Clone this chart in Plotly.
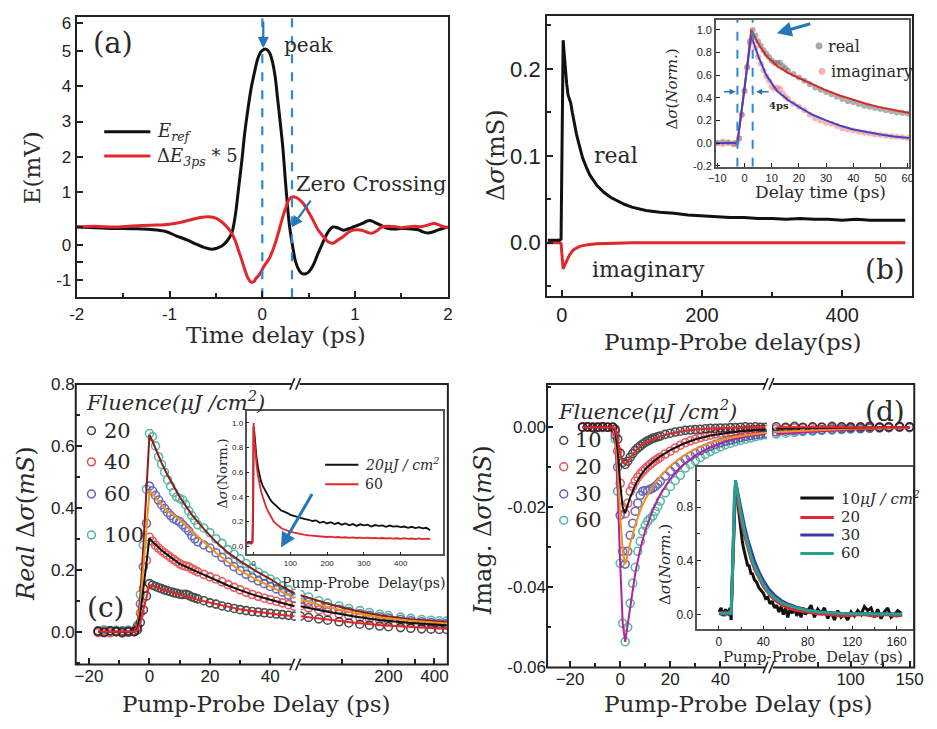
import plotly.graph_objects as go

W, H = 937, 729
SERIF = "DejaVu Serif"
SANS = "Liberation Sans"
INK = "#222222"

# ---------------- (a) THz waveforms ----------------
t_ref = [-2.0, -1.8, -1.6, -1.4, -1.2, -1.05, -0.93, -0.8, -0.72, -0.63, -0.54, -0.44, -0.38, -0.33, -0.29,
         -0.26, -0.22, -0.19, -0.155, -0.12, -0.08, -0.05, -0.01, 0.04, 0.08, 0.11, 0.14, 0.16, 0.19, 0.22,
         0.245, 0.27, 0.29, 0.31, 0.34, 0.36, 0.40, 0.43, 0.47, 0.50, 0.55, 0.59, 0.64, 0.68, 0.72, 0.76,
         0.81, 0.87, 0.93, 0.98, 1.03, 1.08, 1.13, 1.17, 1.22, 1.29, 1.35, 1.40, 1.47, 1.54, 1.61, 1.68,
         1.73, 1.78, 1.84, 1.89, 1.95, 2.0]
e_ref = [0.0, -0.02, -0.04, -0.05, -0.07, -0.12, -0.25, -0.38, -0.48, -0.58, -0.63, -0.55, -0.4, -0.18, 0.35,
         1.0, 1.9, 2.66, 3.35, 3.95, 4.45, 4.78, 5.0, 5.06, 4.95, 4.69, 4.25, 3.77, 3.05, 2.3,
         1.45, 0.64, 0.1, -0.28, -0.75, -1.0, -1.25, -1.33, -1.33, -1.28, -1.08, -0.82, -0.52, -0.28, -0.1, 0.0,
         -0.02, -0.09, -0.05, 0.0, 0.05, 0.1, 0.17, 0.18, 0.12, 0.03, -0.04, -0.06, -0.05, -0.04, -0.06, -0.08,
         -0.14, -0.17, -0.14, -0.09, -0.04, 0.0]
t_de = [-2.0, -1.8, -1.6, -1.4, -1.2, -1.0, -0.85, -0.75, -0.65, -0.58, -0.5, -0.44, -0.38, -0.33, -0.29,
        -0.26, -0.22, -0.19, -0.155, -0.12, -0.09, -0.07, -0.03, 0.0, 0.03, 0.07, 0.1, 0.14, 0.18, 0.22,
        0.26, 0.29, 0.33, 0.36, 0.4, 0.45, 0.5, 0.55, 0.6, 0.66, 0.71, 0.76, 0.81, 0.87, 0.93, 0.98,
        1.03, 1.08, 1.13, 1.18, 1.24, 1.29, 1.36, 1.43, 1.5, 1.57, 1.64, 1.71, 1.78, 1.85, 1.92, 2.0]
de_x5 = [0.0, 0.02, 0.0, 0.03, 0.05, 0.08, 0.15, 0.22, 0.28, 0.29, 0.25, 0.15, 0.0, -0.18, -0.4,
         -0.64, -0.95, -1.2, -1.45, -1.57, -1.55, -1.47, -1.35, -1.2, -1.07, -0.92, -0.75, -0.46, -0.1, 0.28,
         0.6, 0.79, 0.86, 0.84, 0.78, 0.64, 0.42, 0.18, -0.08, -0.28, -0.42, -0.46, -0.38, -0.28, -0.15, -0.09,
         -0.08, -0.1, -0.15, -0.18, -0.1, 0.0, 0.02, 0.01, -0.02, 0.0, 0.02, 0.01, 0.05, 0.1, 0.04, -0.02]
a_marks = [0.0, 0.32]          # peak and zero-crossing delays
a_yticks = [5.79, 5, 4, 3, 2, 1, -0.52, -1.52]
a_ytext = ["6", "5", "4", "3", "2", "1", "0", "-1"]
a_yminor = [0, -1]

# ---------------- (b) conductivity vs delay ----------------
t_b = [-20, -10, -3, -1, 0, 1, 2, 3, 5, 7, 9, 11, 13, 15, 18, 21, 25, 30, 35, 40, 50, 60, 70, 80, 90, 100,
       120, 140, 160, 180, 200, 220, 240, 260, 280, 300, 320, 340, 360, 380, 400, 420, 440, 460, 480, 490]
re_b = [0.003, 0.003, 0.003, 0.004, 0.1, 0.22, 0.233, 0.222, 0.2, 0.183, 0.17, 0.165, 0.16, 0.15, 0.137, 0.125,
        0.112, 0.097, 0.087, 0.078, 0.066, 0.058, 0.052, 0.048, 0.044, 0.041,
        0.037, 0.035, 0.034, 0.032, 0.031, 0.030, 0.029, 0.029, 0.028, 0.028, 0.027, 0.028, 0.027, 0.027,
        0.026, 0.027, 0.026, 0.026, 0.026, 0.026]
im_b = [0, 0, 0, -0.001, -0.01, -0.024, -0.03, -0.028, -0.024, -0.02, -0.017, -0.014, -0.012, -0.0095, -0.0075,
        -0.006, -0.0045, -0.0033, -0.0025, -0.0019, -0.0012, -0.0008, -0.0005, -0.0003, -0.0002, -0.0001,
        0, 0, 0, 0, 0, 0, 0, 0, 0, 0, 0, 0, 0, 0, 0, 0, 0, 0, 0, 0]

# inset (b): normalised traces
t_ib = [-10, -8, -6, -4, -3, -2, -1, 0, 1, 2, 3, 4, 5, 6, 7, 8, 9, 10, 11, 12, 13, 14, 15, 16,
        18, 20, 22, 24, 26, 28, 30, 32, 34, 36, 38, 40, 42, 44, 46, 48, 50, 52, 54, 56, 58, 60]
re_ib = [0, 0.01, 0, -0.01, 0, 0.04, 0.25, 0.46, 0.67, 0.9, 1.0, 0.95, 0.9, 0.86, 0.82, 0.79, 0.76, 0.73, 0.71,
         0.71, 0.71, 0.68, 0.66, 0.64, 0.61, 0.58, 0.55, 0.52, 0.49, 0.47, 0.45, 0.43, 0.41, 0.39, 0.37, 0.36,
         0.345, 0.33, 0.32, 0.31, 0.3, 0.29, 0.28, 0.27, 0.265, 0.26]
im_ib = [0, -0.01, 0.01, 0, 0, 0.04, 0.25, 0.46, 0.67, 0.88, 0.93, 0.84, 0.76, 0.7, 0.64, 0.59, 0.55, 0.5, 0.48,
         0.49, 0.48, 0.44, 0.41, 0.39, 0.35, 0.32, 0.29, 0.25, 0.22, 0.2, 0.18, 0.17, 0.15, 0.13, 0.12, 0.11,
         0.1, 0.09, 0.085, 0.075, 0.07, 0.065, 0.06, 0.055, 0.05, 0.045]
tf_ib = [-10.5, -2.6, 0, 2.5, 5, 8, 12, 16, 20, 25, 30, 35, 40, 45, 50, 55, 60.5]
ref_ib = [0, 0, 0.48, 1.0, 0.88, 0.77, 0.68, 0.62, 0.575, 0.52, 0.465, 0.42, 0.38, 0.345, 0.315, 0.29, 0.265]
imf_ib = [0, 0, 0.48, 0.95, 0.77, 0.6, 0.46, 0.38, 0.32, 0.25, 0.2, 0.155, 0.12, 0.095, 0.075, 0.058, 0.045]
b_marks = [-2.6, 3.0]

# ---------------- (c) real part, fluence series ----------------
t_c = [-17, -15, -13, -11, -9, -7, -5, -4, -3, -2, -1, 0, 1, 2, 3, 4, 5, 6, 7, 8, 9, 10, 11, 12, 13, 14, 15, 16,
       18, 20, 22, 24, 26, 28, 30, 32, 34, 36, 38, 40, 42, 44, 46, 48]
c20 = [0.002, -0.002, 0.003, 0.0, -0.002, 0.001, 0.0, 0.006, 0.03, 0.07, 0.115, 0.155, 0.15, 0.146, 0.142, 0.139,
       0.135, 0.132, 0.129, 0.126, 0.124, 0.121, 0.12, 0.121, 0.117, 0.112, 0.109, 0.106,
       0.1, 0.093, 0.089, 0.083, 0.079, 0.075, 0.071, 0.068, 0.065, 0.063, 0.061, 0.059, 0.057, 0.055, 0.053, 0.05]
c40 = [-0.003, 0.002, -0.004, 0.001, -0.005, 0.0, 0.002, 0.012, 0.06, 0.14, 0.23, 0.305, 0.292, 0.279, 0.27, 0.262,
       0.254, 0.247, 0.24, 0.233, 0.226, 0.219, 0.214, 0.212, 0.209, 0.203, 0.198, 0.193,
       0.185, 0.177, 0.17, 0.161, 0.152, 0.143, 0.135, 0.127, 0.12, 0.114, 0.108, 0.103, 0.098, 0.093, 0.087, 0.082]
c60 = [0.0, -0.003, 0.002, 0.0, 0.003, -0.002, 0.0, 0.015, 0.09, 0.21, 0.35, 0.47, 0.455, 0.44, 0.425, 0.41,
       0.398, 0.385, 0.375, 0.365, 0.36, 0.355, 0.345, 0.335, 0.325, 0.31, 0.3, 0.29,
       0.28, 0.27, 0.255, 0.24, 0.225, 0.21, 0.197, 0.185, 0.174, 0.164, 0.155, 0.146, 0.138, 0.128, 0.118, 0.108]
c100 = [0.003, 0.006, 0.002, 0.004, 0.0, 0.005, 0.002, 0.02, 0.12, 0.28, 0.46, 0.64, 0.63, 0.6, 0.565, 0.54,
        0.515, 0.49, 0.47, 0.45, 0.435, 0.43, 0.425, 0.41, 0.39, 0.375, 0.36, 0.345,
        0.335, 0.32, 0.3, 0.285, 0.265, 0.25, 0.235, 0.22, 0.205, 0.192, 0.18, 0.17, 0.16, 0.148, 0.135, 0.124]
tf_c = [-17, -5, -4, -3, -2, -1, 0, 1, 2, 4, 6, 8, 10, 14, 18, 22, 26, 30, 35, 40, 44, 48]
f20 = [0, 0, 0.005, 0.03, 0.07, 0.112, 0.15, 0.148, 0.144, 0.137, 0.131, 0.125, 0.119, 0.108, 0.098, 0.089,
       0.08, 0.072, 0.065, 0.058, 0.054, 0.05]
f40 = [0, 0, 0.01, 0.06, 0.14, 0.225, 0.302, 0.29, 0.28, 0.263, 0.248, 0.233, 0.219, 0.201, 0.184, 0.165,
       0.149, 0.134, 0.117, 0.103, 0.092, 0.082]
f60 = [0, 0, 0.015, 0.09, 0.21, 0.34, 0.455, 0.445, 0.432, 0.41, 0.39, 0.375, 0.362, 0.325, 0.29, 0.255,
       0.225, 0.198, 0.17, 0.147, 0.126, 0.108]
f100 = [0, 0, 0.02, 0.12, 0.28, 0.46, 0.635, 0.615, 0.59, 0.545, 0.505, 0.468, 0.435, 0.378, 0.332, 0.29,
        0.255, 0.228, 0.197, 0.17, 0.145, 0.124]
# long-delay part (log axis after the break)
tr_c = [53, 60, 70, 80, 95, 110, 130, 150, 175, 200, 240, 280, 330, 380, 430, 480]
r20 = [0.05, 0.046, 0.041, 0.037, 0.032, 0.028, 0.024, 0.021, 0.018, 0.016, 0.013, 0.011, 0.009, 0.008, 0.007, 0.007]
r40 = [0.083, 0.077, 0.07, 0.064, 0.057, 0.052, 0.046, 0.042, 0.038, 0.035, 0.031, 0.028, 0.026, 0.024, 0.022, 0.021]
r60 = [0.103, 0.095, 0.087, 0.08, 0.072, 0.065, 0.058, 0.053, 0.048, 0.044, 0.039, 0.035, 0.032, 0.029, 0.027, 0.026]
r100 = [0.12, 0.112, 0.1, 0.092, 0.083, 0.075, 0.068, 0.062, 0.056, 0.052, 0.047, 0.043, 0.039, 0.037, 0.035, 0.034]
trf_c = [53, 80, 120, 180, 270, 400, 480]
rf20 = [0.05, 0.039, 0.029, 0.021, 0.015, 0.011, 0.01]
rf40 = [0.082, 0.064, 0.049, 0.037, 0.029, 0.023, 0.021]
rf60 = [0.103, 0.08, 0.06, 0.046, 0.036, 0.029, 0.026]
rf100 = [0.118, 0.09, 0.068, 0.052, 0.041, 0.033, 0.03]

# inset (c): normalised real part, 20 and 60 uJ/cm2
t_ic = [-19, -12, -6, -3, -1, 0, 2, 5, 8, 12, 16, 20, 25, 30, 35, 40, 45, 50, 55, 60, 65, 70, 75, 80, 85, 90,
        95, 100, 110, 120, 130, 140, 150, 160, 170, 180, 190, 200, 210, 220, 230, 240, 250, 260, 270, 280,
        290, 300, 310, 320, 330, 340, 350, 360, 370, 380, 390, 400, 410, 420, 430, 440, 450, 460, 470, 480]
k20_ic = [0.03, 0.035, 0.03, 0.04, 0.3, 0.97, 0.93, 0.8, 0.72, 0.64, 0.57, 0.53, 0.49, 0.46, 0.43, 0.4, 0.38,
          0.36, 0.345, 0.33, 0.32, 0.3, 0.29, 0.285, 0.28, 0.27, 0.265, 0.255,
          0.245, 0.24, 0.225, 0.22, 0.215, 0.205, 0.21, 0.19, 0.2, 0.185, 0.195, 0.18, 0.19, 0.175, 0.185,
          0.17, 0.18, 0.165, 0.178, 0.17, 0.175, 0.16, 0.172, 0.165, 0.17, 0.158, 0.168, 0.16, 0.163, 0.155,
          0.16, 0.15, 0.158, 0.148, 0.155, 0.145, 0.15, 0.13]
r60_ic = [0.02, 0.025, 0.02, 0.03, 0.5, 1.0, 0.88, 0.76, 0.66, 0.57, 0.5, 0.45, 0.4, 0.35, 0.31, 0.28, 0.25,
          0.225, 0.2, 0.185, 0.17, 0.158, 0.148, 0.14, 0.133, 0.127, 0.122, 0.118,
          0.11, 0.102, 0.097, 0.092, 0.088, 0.085, 0.082, 0.08, 0.08, 0.075, 0.078, 0.072, 0.075, 0.07,
          0.073, 0.068, 0.072, 0.067, 0.07, 0.066, 0.07, 0.065, 0.068, 0.064, 0.067, 0.063, 0.066, 0.062,
          0.065, 0.06, 0.066, 0.06, 0.063, 0.058, 0.064, 0.058, 0.062, 0.06]

# ---------------- (d) imaginary part, fluence series ----------------
t_d = [-15, -13, -11, -9, -7, -5, -3, -2, -1, 0, 1, 2, 3, 4, 5, 6, 7, 8, 9, 10, 11, 12, 13, 14, 15, 16,
       18, 20, 22, 24, 26, 28, 30, 32, 34, 36, 38, 40, 42, 44, 46, 48, 50, 52, 54, 56, 58]
d10 = [0, 0.0001, -0.0001, 0, 0.0001, 0, 0, -0.0005, -0.003, -0.0065, -0.0088, -0.0093, -0.0085, -0.0075,
       -0.0066, -0.0058, -0.0052, -0.0047, -0.0042, -0.0038, -0.0034, -0.0031, -0.0028, -0.0026, -0.0024,
       -0.0022, -0.0018, -0.0015, -0.0012, -0.001, -0.0008, -0.0007, -0.0006, -0.0005, -0.0004, -0.0003,
       -0.0003, -0.0002, -0.0002, -0.0001, -0.0001, 0, 0.0001, 0, 0.0001, 0, 0]
d20 = [0.0001, 0, -0.0001, 0.0001, 0, 0, 0, -0.001, -0.006, -0.014, -0.02, -0.0216, -0.019, -0.016, -0.0148,
       -0.0135, -0.0125, -0.0117, -0.011, -0.0104, -0.0098, -0.0093, -0.0088, -0.0083, -0.0079, -0.0075,
       -0.0067, -0.006, -0.0052, -0.0045, -0.0039, -0.0034, -0.003, -0.0026, -0.0023, -0.002, -0.0017,
       -0.0015, -0.0013, -0.0012, -0.001, -0.0009, -0.0008, -0.0007, -0.0006, -0.0005, -0.0005]
d30 = [0, 0.0001, 0, -0.0001, 0.0001, 0, 0, -0.002, -0.01, -0.022, -0.031, -0.0342, -0.031, -0.027, -0.024,
       -0.021, -0.019, -0.017, -0.016, -0.0158, -0.0158, -0.0155, -0.0152, -0.0148, -0.0142, -0.0135,
       -0.0122, -0.011, -0.0099, -0.0089, -0.008, -0.0072, -0.0065, -0.0058, -0.0053, -0.0048, -0.0043,
       -0.0039, -0.0035, -0.0032, -0.0029, -0.0026, -0.0023, -0.0021, -0.0019, -0.0017, -0.0015]
d60 = [0.0001, 0, 0.0001, 0, -0.0001, 0, 0, -0.003, -0.016, -0.034, -0.049, -0.0536, -0.05, -0.044, -0.039,
       -0.035, -0.031, -0.0285, -0.026, -0.0245, -0.0235, -0.0228, -0.0222, -0.021, -0.0198, -0.0185,
       -0.0164, -0.0148, -0.0133, -0.012, -0.0102, -0.0093, -0.0084, -0.0076, -0.0068, -0.0061, -0.0055,
       -0.0049, -0.0044, -0.004, -0.0036, -0.0033, -0.003, -0.0027, -0.0024, -0.0021, -0.0019]
tf_d = [-15, -3, -2, -1, 0, 1, 2, 3, 4, 6, 8, 10, 13, 16, 20, 25, 30, 36, 42, 50, 58]
fd10 = [0, 0, -0.0005, -0.003, -0.0065, -0.0088, -0.0093, -0.0086, -0.0076, -0.006, -0.0048, -0.0039, -0.003,
        -0.0023, -0.0016, -0.001, -0.0006, -0.0003, -0.0002, -0.0001, 0]
fd20 = [0, 0, -0.001, -0.006, -0.014, -0.02, -0.0215, -0.0195, -0.0175, -0.0145, -0.0122, -0.0105, -0.0087,
        -0.0073, -0.0057, -0.0042, -0.003, -0.0021, -0.0015, -0.0009, -0.0005]
fd30 = [0, 0, -0.002, -0.01, -0.022, -0.031, -0.0342, -0.032, -0.029, -0.0245, -0.0208, -0.018, -0.0148,
        -0.0123, -0.0097, -0.0072, -0.0054, -0.0039, -0.0029, -0.002, -0.0014]
fd60 = [0, 0, -0.003, -0.016, -0.034, -0.049, -0.0536, -0.0495, -0.0445, -0.0365, -0.0305, -0.0258, -0.0207,
        -0.0168, -0.0129, -0.0095, -0.007, -0.005, -0.0036, -0.0024, -0.0017]
tr_d = [60, 64, 68, 72, 77, 82, 88, 94, 100, 107, 114, 122, 130, 140, 150]
rd10 = [0.0001, 0, 0.0002, 0, 0.0001, 0, 0.0002, 0.0001, 0, 0.0001, 0.0002, 0, 0.0001, 0.0002, 0.0001]
rd20 = [-0.0004, -0.0003, -0.0002, -0.0002, -0.0001, 0, -0.0001, 0, 0.0001, 0, 0, 0.0001, 0, 0.0001, 0]
rd30 = [-0.0012, -0.001, -0.0009, -0.0008, -0.0007, -0.0006, -0.0005, -0.0004, -0.0003, -0.0003, -0.0002,
        -0.0001, -0.0001, 0, -0.0001]
rd60 = [-0.0017, -0.0015, -0.0013, -0.0011, -0.001, -0.0008, -0.0007, -0.0006, -0.0005, -0.0004, -0.0003,
        -0.0002, -0.0001, 0.0, 0.0001]
trf_d = [60, 80, 100, 125, 150]
rfd10 = [0, 0, 0, 0, 0]
rfd20 = [-0.0004, -0.0002, -0.0001, 0, 0]
rfd30 = [-0.0012, -0.0007, -0.0004, -0.0002, -0.0001]
rfd60 = [-0.0017, -0.001, -0.0006, -0.0003, -0.0002]

# inset (d): normalised imaginary part
t_id = [0, 3, 6, 9, 11, 12, 13, 14, 15, 16, 18, 20, 23, 26, 29, 32, 36, 40, 45, 50, 56, 62, 70, 80, 90, 100,
        110, 120, 130, 140, 150, 160, 165]
n20_id = [0.01, 0.015, 0.0, 0.02, 0.01, 0.25, 0.6, 0.86, 0.97, 0.9, 0.8, 0.7, 0.59, 0.49, 0.41, 0.34, 0.27,
          0.21, 0.155, 0.11, 0.075, 0.05, 0.03, 0.015, 0.005, 0.0, -0.01, -0.005, 0.0, -0.012, 0.0, -0.01, -0.005]
n30_id = [0.01, 0.0, 0.02, 0.0, 0.01, 0.25, 0.6, 0.86, 0.98, 0.95, 0.86, 0.77, 0.66, 0.56, 0.47, 0.4, 0.32,
          0.255, 0.19, 0.145, 0.105, 0.08, 0.055, 0.035, 0.022, 0.015, 0.01, 0.008, 0.006, 0.005, 0.004,
          0.004, 0.004]
n60_id = [0.01, 0.01, 0.01, 0.01, 0.01, 0.25, 0.6, 0.88, 1.0, 0.94, 0.84, 0.74, 0.62, 0.52, 0.43, 0.36, 0.29,
          0.225, 0.165, 0.125, 0.09, 0.07, 0.05, 0.03, 0.02, 0.012, 0.008, 0.006, 0.005, 0.004, 0.004,
          0.003, 0.003]
t_id10 = [0, 2, 4, 6, 8, 10, 11, 12, 13, 14, 15, 16, 17, 18, 19, 20, 21, 22, 23, 24, 25, 26, 27, 28, 29, 30,
          32, 34, 36, 38, 40, 42, 44, 46, 48, 50, 52, 54, 56, 58, 60, 62, 64, 66, 68, 70, 72, 74, 76, 78, 80,
          83, 86, 89, 92, 95, 98, 101, 104, 107, 110, 113, 116, 119, 122, 125, 128, 131, 134, 137, 140, 143,
          146, 149, 152, 155, 158, 161, 164]
n10_id = [0.02, 0.05, -0.01, 0.04, 0.0, 0.05, -0.04, 0.3, 0.6, 0.85, 0.97, 0.9, 0.8, 0.74, 0.66, 0.62, 0.55,
          0.5, 0.46, 0.44, 0.4, 0.36, 0.37, 0.32, 0.3, 0.31, 0.26, 0.24, 0.2, 0.18, 0.16, 0.12, 0.13, 0.08,
          0.1, 0.05, 0.07, 0.02, 0.06, 0.0, 0.05, -0.02, 0.04, 0.01, 0.06, -0.01, 0.03, -0.02, 0.05, 0.0, 0.03,
          0.07, -0.02, 0.04, 0.01, 0.05, -0.03, 0.02, -0.04, 0.03, -0.02, 0.0, -0.04, 0.02, -0.01, 0.03, 0.0,
          0.06, 0.03, 0.05, -0.02, 0.04, -0.03, 0.02, 0.05, -0.02, 0.0, 0.03, 0.01]

# ---------------- colours ----------------
BLACK = "#111111"
RED = "#e3262b"
BLUE = "#3a3aa8"
TEAL = "#25a28a"
ORANGE = "#f0921e"
DKRED = "#8c1c1c"
MAGENTA = "#b3239c"
ARROW = "#2677b8"
DASH = "#2b8ad2"


def xdom(a, b):
    return [a / W, b / W]


def ydom(top, bottom):
    return [1 - bottom / H, 1 - top / H]


def px(x):
    return x / W


def py(y):
    return 1 - y / H


def axis_style(size, line=True, lc=INK, lw=2):
    return dict(showgrid=False, zeroline=False, ticks="inside", ticklen=6, tickwidth=1.5, tickcolor=INK,
                showline=line, mirror=line, linecolor=lc, linewidth=lw,
                tickfont=dict(family=SANS, size=size, color=INK))


def minor_at(vals, ln=6):
    return dict(ticks="inside", ticklen=ln, tickmode="array", tickvals=vals, tickcolor=INK, tickwidth=1.5)


fig = go.Figure()


def line(x, y, xa, ya, color, width=2.5, shape="linear", dash=None):
    fig.add_trace(go.Scatter(x=x, y=y, mode="lines", xaxis=xa, yaxis=ya, showlegend=False, hoverinfo="skip",
                             line=dict(color=color, width=width, shape=shape, dash=dash)))


def rings(x, y, xa, ya, color, size=8):
    fig.add_trace(go.Scatter(x=x, y=y, mode="markers", xaxis=xa, yaxis=ya, showlegend=False, hoverinfo="skip",
                             opacity=0.75,
                             marker=dict(symbol="circle-open", size=size, color=color, line=dict(width=1.6))))


def dots(x, y, xa, ya, color, size=6):
    fig.add_trace(go.Scatter(x=x, y=y, mode="markers", xaxis=xa, yaxis=ya, showlegend=False, hoverinfo="skip",
                             marker=dict(symbol="circle", size=size, color=color)))


# (a)
line(t_ref, e_ref, "x", "y", BLACK, 3, "spline")
line(t_de, de_x5, "x", "y", RED, 3, "spline")

# (b)
line(t_b, im_b, "x2", "y2", RED, 3)
line(t_b, re_b, "x2", "y2", BLACK, 3)

# (c) left segment
for yv, col in [(c100, TEAL), (c60, BLUE), (c40, RED), (c20, BLACK)]:
    rings(t_c, yv, "x3", "y3", col)
for yv, col in [(f100, DKRED), (f60, ORANGE), (f40, BLACK), (f20, RED)]:
    line(tf_c, yv, "x3", "y3", col, 2)
# (c) right segment
for yv, col in [(r100, TEAL), (r60, BLUE), (r40, RED), (r20, BLACK)]:
    rings(tr_c, yv, "x4", "y3", col)
for yv, col in [(rf100, DKRED), (rf60, ORANGE), (rf40, BLACK), (rf20, RED)]:
    line(trf_c, yv, "x4", "y3", col, 2)

# (d) left segment
for yv, col in [(d60, TEAL), (d30, BLUE), (d20, RED), (d10, BLACK)]:
    rings(t_d, yv, "x5", "y5", col)
for yv, col in [(fd60, MAGENTA), (fd30, ORANGE), (fd20, BLACK), (fd10, RED)]:
    line(tf_d, yv, "x5", "y5", col, 2)
# (d) right segment
for yv, col in [(rd60, TEAL), (rd30, BLUE), (rd20, RED), (rd10, BLACK)]:
    rings(tr_d, yv, "x6", "y5", col)
for yv, col in [(rfd60, MAGENTA), (rfd30, ORANGE), (rfd20, BLACK), (rfd10, RED)]:
    line(trf_d, yv, "x6", "y5", col, 2)

# inset (b)
dots(t_ib, re_ib, "x7", "y7", "rgba(110,110,110,0.55)", 6)
dots(t_ib, im_ib, "x7", "y7", "rgba(240,110,110,0.5)", 6)
line(tf_ib, ref_ib, "x7", "y7", "#d42a2a", 2)
line(tf_ib, imf_ib, "x7", "y7", "#4444c4", 2)
for xm in b_marks:
    line([xm, xm], [-0.21, 1.09], "x7", "y7", DASH, 2, dash="dash")

# inset (c)
line(t_ic, k20_ic, "x8", "y8", BLACK, 1.8)
line(t_ic, r60_ic, "x8", "y8", RED, 1.8)

# inset (d)
line(t_id10, n10_id, "x9", "y9", BLACK, 3)
line(t_id, n20_id, "x9", "y9", RED, 3)
line(t_id, n30_id, "x9", "y9", BLUE, 3)
line(t_id, n60_id, "x9", "y9", TEAL, 3)

# vertical markers in (a)
for xm in a_marks:
    line([xm, xm], [-2.0, 5.98], "x", "y", DASH, 2.2, dash="dash")

layout = dict(width=W, height=H, margin=dict(l=0, r=0, t=0, b=0), paper_bgcolor="white", plot_bgcolor="white",
              showlegend=False)

# axes (a)
layout["xaxis"] = dict(axis_style(17), domain=xdom(70, 448), range=[-2, 2], anchor="y",
                       tickvals=[-2, -1, 0, 1, 2], ticktext=["-2", "-1", "0", "1", "2"],
                       minor=dict(ticks="inside", ticklen=4, dtick=0.5, tick0=0, tickcolor=INK))
layout["yaxis"] = dict(axis_style(17), domain=ydom(8, 296), range=[-2.0, 5.98], anchor="x",
                       tickvals=a_yticks, ticktext=a_ytext, minor=minor_at(a_yminor))
# axes (b)
layout["xaxis2"] = dict(axis_style(20), domain=xdom(549, 921), range=[-21, 500], anchor="y2",
                        tickvals=[0, 200, 400],
                        minor=dict(ticks="inside", ticklen=4, dtick=100, tick0=0, tickcolor=INK))
layout["yaxis2"] = dict(axis_style(22), domain=ydom(7, 295), range=[-0.0616, 0.261], anchor="x2",
                        tickvals=[0, 0.1, 0.2], ticktext=["0.0", "0.1", "0.2"],
                        minor=dict(ticks="inside", ticklen=4, dtick=0.05, tick0=0, tickcolor=INK))
# axes (c)
layout["xaxis3"] = dict(axis_style(17, line=False), domain=xdom(69, 293), range=[-24.4, 48.4], anchor="y3",
                        tickvals=[-20, 0, 20, 40],
                        minor=dict(ticks="inside", ticklen=4, dtick=10, tick0=0, tickcolor=INK))
layout["xaxis4"] = dict(axis_style(17, line=False), domain=xdom(298, 448), type="log", range=[1.726, 2.69],
                        anchor="y3", tickvals=[200, 400], ticktext=["200", "400"],
                        minor=minor_at([100, 300], 5))
layout["yaxis3"] = dict(axis_style(17, line=False), domain=ydom(385, 673), range=[-0.106, 0.8], anchor="x3",
                        tickvals=[0, 0.2, 0.4, 0.6, 0.8], ticktext=["0.0", "0.2", "0.4", "0.6", "0.8"],
                        minor=dict(ticks="inside", ticklen=4, dtick=0.1, tick0=0, tickcolor=INK))
# axes (d)
layout["xaxis5"] = dict(axis_style(17, line=False), domain=xdom(549, 773), range=[-29.2, 58.6], anchor="y5",
                        tickvals=[-20, 0, 20, 40],
                        minor=dict(ticks="inside", ticklen=4, dtick=10, tick0=0, tickcolor=INK))
layout["xaxis6"] = dict(axis_style(17, line=False), domain=xdom(778, 923), type="log", range=[1.765, 2.19],
                        anchor="y5", tickvals=[100, 150], ticktext=["100", "150"],
                        minor=minor_at([80, 125], 5))
layout["yaxis5"] = dict(axis_style(17, line=False), domain=ydom(385, 676), range=[-0.06, 0.0108], anchor="x5",
                        tickvals=[-0.06, -0.04, -0.02, 0], ticktext=["-0.06", "-0.04", "-0.02", "0.00"],
                        minor=dict(ticks="inside", ticklen=4, dtick=0.01, tick0=0, tickcolor=INK))
# inset axes
ins_b = axis_style(11, lc="#555555", lw=1.5)
ins_b.update(ticklen=4, tickwidth=1)
layout["xaxis7"] = dict(ins_b, domain=xdom(721, 918), range=[-10.5, 60.6], anchor="y7",
                        tickvals=[-10, 0, 10, 20, 30, 40, 50, 60])
layout["yaxis7"] = dict(ins_b, domain=ydom(11, 162), range=[-0.21, 1.09], anchor="x7",
                        tickvals=[-0.2, 0, 0.2, 0.4, 0.6, 0.8, 1.0],
                        ticktext=["-0.2", "0.0", "0.2", "0.4", "0.6", "0.8", "1.0"])
ins_c = axis_style(8, lc="#555555", lw=1.5)
ins_c.update(ticklen=3, tickwidth=1)
layout["xaxis8"] = dict(ins_c, domain=xdom(243, 443), range=[-19, 515], anchor="y8",
                        tickvals=[0, 100, 200, 300, 400])
layout["yaxis8"] = dict(ins_c, domain=ydom(413, 560), range=[-0.066, 1.095], anchor="x8",
                        tickvals=[0, 0.2, 0.4, 0.6, 0.8, 1.0],
                        ticktext=["0.0", "0.2", "0.4", "0.6", "0.8", "1.0"])
ins_d = axis_style(12, lc="#555555", lw=1.5)
ins_d.update(ticklen=4, tickwidth=1)
layout["xaxis9"] = dict(ins_d, domain=xdom(702, 922), range=[-19.5, 175], anchor="y9",
                        tickvals=[0, 40, 80, 120, 160],
                        minor=dict(ticks="inside", ticklen=3, dtick=20, tick0=0, tickcolor=INK))
layout["yaxis9"] = dict(ins_d, domain=ydom(470, 637), range=[-0.11, 1.1], anchor="x9",
                        tickvals=[0, 0.4, 0.8], ticktext=["0.0", "0.4", "0.8"],
                        minor=dict(ticks="inside", ticklen=3, dtick=0.2, tick0=0, tickcolor=INK))

fig.update_layout(**layout)

# ---------------- text ----------------
TXT = "#2a2a2a"


def text(s, x, y, size, angle=0, anchor="center", family=SERIF, color=TXT):
    fig.add_annotation(text=s, x=px(x), y=py(y), xref="paper", yref="paper", showarrow=False,
                       xanchor=anchor, yanchor="middle", textangle=angle,
                       font=dict(family=family, size=size, color=color))


def arrow(hx, hy, tx, ty, width=2.2, size=1.0):
    fig.add_annotation(text="", x=px(hx), y=py(hy), xref="paper", yref="paper", showarrow=True,
                       ax=tx - hx, ay=ty - hy, arrowhead=2, arrowsize=size, arrowwidth=width,
                       arrowcolor=ARROW)


# axis titles
text("E(mV)", 24, 163, 23, angle=-90)
text("Time delay (ps)", 273, 335, 23)
text("Δ<i>σ</i>(mS)", 497, 150, 24, angle=-90)
text("Pump-Probe delay(ps)", 738, 342, 23)
text("<i>Real</i> Δ<i>σ</i>(<i>mS</i>)", 19, 528, 24, angle=-90)
text("Pump-Probe Delay (ps)", 253, 714, 23)
text("<i>I</i>mag. Δ<i>σ</i>(<i>mS</i>)", 484, 535, 24, angle=-90)
text("Pump-Probe Delay (ps)", 743, 714, 23)

# (a)
text("(a)", 107, 35, 29)
text("peak", 307, 37, 20)
text("Zero Crossing", 370, 180, 21)
text("<i>E</i><sub><i>ref</i></sub>", 150, 126, 18, anchor="left")
text("Δ<i>E</i><sub><i>3ps</i></sub> * 5", 150, 152, 18, anchor="left")
arrow(260, 40, 260, 12)
arrow(289, 224, 309, 196)

# (b)
text("real", 619, 150, 22)
text("imaginary", 652, 267, 22)
text("(b)", 893, 267, 28)
text("Δ<i>σ</i>(<i>Norm.</i>)", 676, 82, 15, angle=-90)
text("Delay time (ps)", 828, 188, 17)
text("real", 833, 38, 16, anchor="left")
text("imaginary", 836, 64, 16, anchor="left")
text("<b>4ps</b>", 773, 99, 10, anchor="left")
arrow(783, 25, 818, 15, width=3)
arrow(741, 85, 728, 85, width=1.5, size=0.8)
arrow(762, 85, 776, 85, width=1.5, size=0.8)

# (c)
text("<i>Fluence(μJ /cm<sup>2</sup>)</i>", 171, 403, 21)
for yy, lab in [(433, "20"), (465, "40"), (498, "60"), (540, "100")]:
    text(lab, 96, yy, 21, anchor="left")
text("(c)", 100, 615, 28)
text("Δ<i>σ</i>(Norm.)", 219, 477, 13, angle=-90)
text("Pump-Probe  Delay(ps)", 362, 589, 14)
text("<i>20μJ / cm<sup>2</sup></i>", 362, 467, 14, anchor="left")
text("60", 362, 488, 14, anchor="left")
arrow(278, 553, 310, 498, width=3)

# (d)
text("<i>Fluence(μJ /cm<sup>2</sup>)</i>", 651, 412, 21)
for yy, lab in [(443, "10"), (470, "20"), (498, "30"), (525, "60")]:
    text(lab, 575, yy, 21, anchor="left")
text("(d)", 893, 413, 28)
text("Δ<i>σ</i>(<i>Norm.</i>)", 669, 570, 15, angle=-90)
text("Pump-Probe  Delay (ps)", 820, 665, 15)
for yy, lab in [(502, "10<i>μJ / cm<sup>2</sup></i>"), (522, "20"), (540, "30"), (559, "60")]:
    text(lab, 846, yy, 15, anchor="left")

# ---------------- shapes: frames, breaks, legend keys ----------------
shapes = []


def seg(x0, y0, x1, y1, color, width):
    shapes.append(dict(type="line", xref="paper", yref="paper", x0=px(x0), y0=py(y0), x1=px(x1), y1=py(y1),
                       line=dict(color=color, width=width)))


def ring(cx, cy, r, color):
    shapes.append(dict(type="circle", xref="paper", yref="paper", x0=px(cx - r), x1=px(cx + r),
                       y0=py(cy + r), y1=py(cy - r), line=dict(color=color, width=1.5), opacity=0.8))


def dot(cx, cy, r, color):
    shapes.append(dict(type="circle", xref="paper", yref="paper", x0=px(cx - r), x1=px(cx + r),
                       y0=py(cy + r), y1=py(cy - r), line=dict(width=0), fillcolor=color))


# outer frames of the broken-axis panels
for (l, t, r, b) in [(69, 385, 448, 673), (549, 385, 923, 676)]:
    shapes.append(dict(type="rect", xref="paper", yref="paper", x0=px(l), x1=px(r), y0=py(b), y1=py(t),
                       line=dict(color=INK, width=2)))
# axis-break marks
for xb, ys in [(293, (385, 673)), (775, (385, 676))]:
    for yb in ys:
        shapes.append(dict(type="rect", xref="paper", yref="paper", x0=px(xb - 4), x1=px(xb + 4),
                           y0=py(yb + 3), y1=py(yb - 3), line=dict(width=0), fillcolor="white"))
        seg(xb - 6, yb + 6, xb - 1, yb - 6, INK, 1.6)
        seg(xb, yb + 6, xb + 5, yb - 6, INK, 1.6)

# (a) legend keys
seg(98, 126, 145, 126, BLACK, 3)
seg(98, 151, 145, 151, RED, 3)
# inset (b) legend keys
dot(826, 38, 3.5, "rgba(110,110,110,0.6)")
dot(829, 64, 3.5, "rgba(240,110,110,0.55)")
# (c) legend keys
for yy, col in [(433, BLACK), (465, RED), (498, BLUE), (540, TEAL)]:
    ring(85, yy, 4, col)
seg(323, 468, 357, 468, BLACK, 2)
seg(323, 488, 357, 488, RED, 2)
# (d) legend keys
for yy, col in [(443, BLACK), (470, RED), (498, BLUE), (525, TEAL)]:
    ring(566, yy, 4, col)
for yy, col in [(502, BLACK), (522, RED), (540, BLUE), (559, TEAL)]:
    seg(807, yy, 841, yy, col, 3)

fig.update_layout(shapes=shapes)
fig.write_html("out.html")
